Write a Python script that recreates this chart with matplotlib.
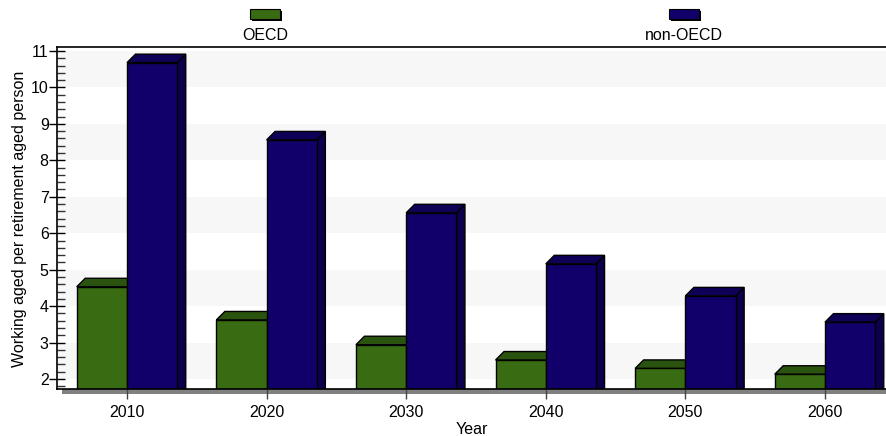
import matplotlib
matplotlib.use('Agg')
import matplotlib.pyplot as plt
from matplotlib.patches import Polygon, Rectangle
from matplotlib.ticker import MultipleLocator

plt.rcParams['font.family'] = ['Liberation Sans', 'DejaVu Sans']

# data
years = ['2010', '2020', '2030', '2040', '2050', '2060']
oecd = [4.53, 3.62, 2.94, 2.52, 2.29, 2.13]
non_oecd = [10.68, 8.56, 6.56, 5.16, 4.28, 3.56]

green, green_top = '#386b12', '#2b5310'
navy, navy_top, navy_side = '#11006a', '#0e0056', '#0c004c'
fs = 11.5

W, H = 886, 436
fig = plt.figure(figsize=(W / 100, H / 100), dpi=100)
# axes frame in pixels: left 57, right past the edge, top 47.5, bottom 389.3
ax = fig.add_axes([57 / W, (H - 389.3) / H, 829 / W, (389.3 - 47.5) / H])

ymin, ymax = 1.717, 11.096
xmin, xmax = -0.5014, 5.437
ax.set_xlim(xmin, xmax)
ax.set_ylim(ymin, ymax)

# depth of the 3d effect (8.5 px) in data units
dx = 8.5 / 139.6
dy = 8.5 / 36.44
bw = 0.36

# alternating bands
for lo in range(2, 11, 2):
    ax.axhspan(lo, lo + 1, color='#f7f7f7', zorder=0, lw=0)


def bar3d(x0, x1, top, front, topc, sidec, z):
    side = Polygon([(x1, ymin), (x1, top), (x1 + dx, top + dy), (x1 + dx, ymin)],
                   closed=True, fc=sidec, ec='black', lw=1, zorder=z)
    lid = Polygon([(x0, top), (x1, top), (x1 + dx, top + dy), (x0 + dx, top + dy)],
                  closed=True, fc=topc, ec='black', lw=1, zorder=z)
    face = Rectangle((x0, ymin), x1 - x0, top - ymin, fc=front, ec='black', lw=1, zorder=z + 0.1)
    for p in (side, lid, face):
        ax.add_patch(p)


for i in range(len(years)):
    bar3d(i - bw, i, oecd[i], green, green_top, green_top, 2 + i)
    bar3d(i, i + bw, non_oecd[i], navy, navy_top, navy_side, 2.5 + i)

# grey floor strip under the x axis
ax.add_patch(Rectangle((xmin + 5 / 139.6, ymin - 4.7 / 36.44), xmax - xmin, 4.7 / 36.44,
                       fc='#808080', ec='none', clip_on=False, zorder=1))

for s in ['left', 'bottom', 'top']:
    ax.spines[s].set_color('black')
    ax.spines[s].set_linewidth(1.2)
    ax.spines[s].set_zorder(20)
ax.spines['right'].set_visible(False)

ax.set_xticks(range(len(years)))
ax.set_xticklabels(years, fontsize=fs)
ax.tick_params(axis='x', direction='out', length=7.5, width=1, color='#444444', pad=3.5)

ax.yaxis.set_major_locator(MultipleLocator(1))
ax.yaxis.set_minor_locator(MultipleLocator(0.2))
ax.tick_params(axis='y', which='major', direction='inout', length=11, width=1, labelsize=fs, pad=0.5)
ax.tick_params(axis='y', which='minor', direction='in', length=5.8, width=1, color='#333333')

ax.set_xlabel('Year', fontsize=fs, labelpad=1.5)
ax.set_ylabel('Working aged per retirement aged person', fontsize=fs, labelpad=3)

# legend drawn as patches with a small shadow
for cx, col, lab in [(265, green, 'OECD'), (684, navy, 'non-OECD')]:
    fig.patches.append(Rectangle(((cx - 15 + 2) / W, (H - 21) / H), 30 / W, 10 / H,
                                 fc='black', ec='none', transform=fig.transFigure))
    fig.patches.append(Rectangle(((cx - 15) / W, (H - 19) / H), 30 / W, 10 / H,
                                 fc=col, ec='black', lw=0.8, transform=fig.transFigure))
    fig.text(cx / W, (H - 35) / H, lab, ha='center', va='center', fontsize=fs)

fig.savefig('out.png', dpi=100)
